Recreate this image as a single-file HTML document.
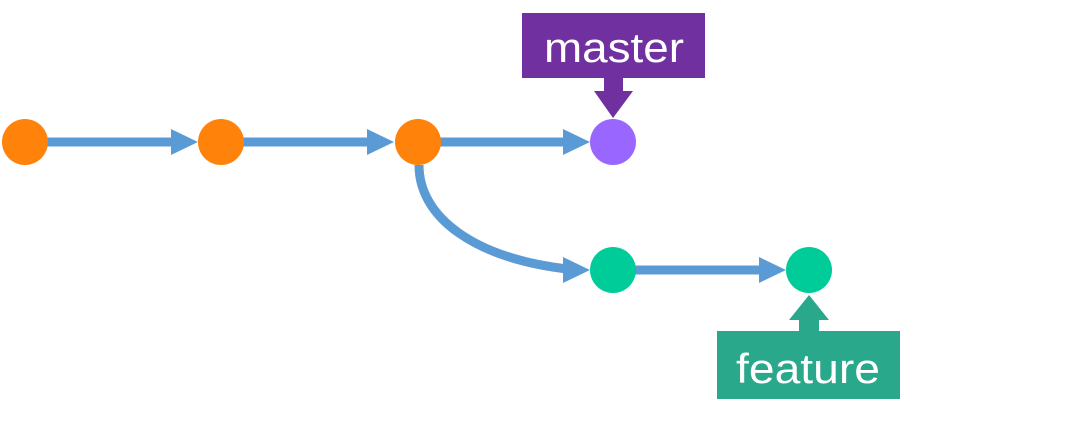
<!DOCTYPE html>
<html><head><style>body{margin:0;background:#fff}svg{display:block}</style></head>
<body>
<svg width="1090" height="426" xmlns="http://www.w3.org/2000/svg">
<g stroke="#5b9bd5" stroke-width="9" fill="none">
<line x1="46" y1="142" x2="175" y2="142"/>
<line x1="242" y1="142" x2="371" y2="142"/>
<line x1="438" y1="142" x2="567" y2="142"/>
<line x1="634" y1="270" x2="763" y2="270"/>
<path d="M419,165 C419,218 475,258 567,269"/>
</g>
<g fill="#5b9bd5">
<polygon points="171,129 198,142 171,155"/>
<polygon points="367,129 394,142 367,155"/>
<polygon points="563,129 590,142 563,155"/>
<polygon points="563,257 590,270 563,283"/>
<polygon points="759,257 786,270 759,283"/>
</g>
<circle cx="25" cy="142" r="23" fill="#ff820a"/>
<circle cx="221" cy="142" r="23" fill="#ff820a"/>
<circle cx="418" cy="142" r="23" fill="#ff820a"/>
<circle cx="613" cy="142" r="23" fill="#9966ff"/>
<circle cx="613" cy="270" r="23" fill="#00cc99"/>
<circle cx="809" cy="270" r="23" fill="#00cc99"/>
<rect x="522" y="13" width="183" height="65" fill="#7030a0"/>
<rect x="604" y="77" width="19" height="15" fill="#7030a0"/>
<polygon points="594,91 633,91 613,118" fill="#7030a0"/>
<text x="544" y="62" font-family="Liberation Sans, sans-serif" font-size="42" fill="#fff" textLength="140" lengthAdjust="spacingAndGlyphs">master</text>
<rect x="717" y="331" width="183" height="68" fill="#2aa88b"/>
<rect x="799" y="318" width="20" height="14" fill="#2aa88b"/>
<polygon points="789,320 829,320 809,295" fill="#2aa88b"/>
<text x="736" y="383" font-family="Liberation Sans, sans-serif" font-size="42" fill="#fff" textLength="144" lengthAdjust="spacingAndGlyphs">feature</text>
</svg>
</body></html>
